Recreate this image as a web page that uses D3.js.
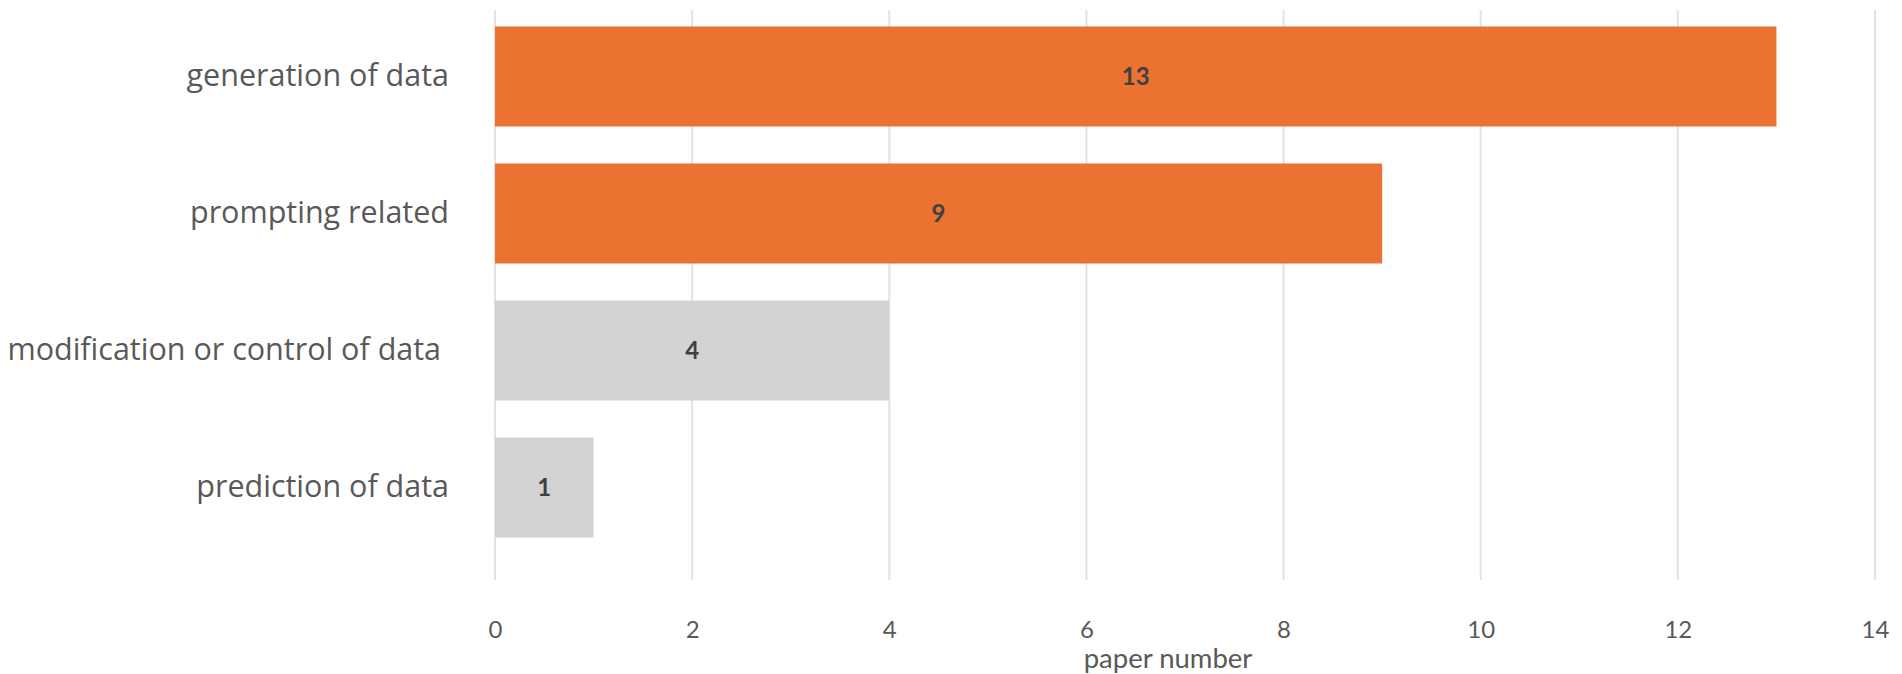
<!DOCTYPE html>
<html><head><meta charset="utf-8">
<script src="https://cdn.jsdelivr.net/npm/d3@7"></script>
<style>body{margin:0;background:#fff}svg{display:block}text{white-space:pre}</style>
</head><body><svg id="c" width="1902" height="674"></svg>
<script>
const categories = ["generation of data","prompting related","modification or control of data ","prediction of data"];
const values = [13, 9, 4, 1];
const highlighted = ["generation of data","prompting related"];
const xTicks = [0,2,4,6,8,10,12,14];
const xTitle = "paper number";

const W=1902,H=674;
const m={left:495,right:27,top:8,bottom:118};
const svg=d3.select("#c");
const font="Lato, 'Open Sans', sans-serif";
const font2="'Open Sans', Lato, sans-serif";
const x=d3.scaleLinear().domain([0,14]).range([m.left,W-m.right]);
const y=d3.scaleBand().domain(categories).range([m.top,H-m.bottom]).paddingInner(0.27).paddingOuter(0.135);

// gridlines
svg.append("g").selectAll("line").data(xTicks).join("line")
 .attr("x1",d=>x(d)).attr("x2",d=>x(d)).attr("y1",10).attr("y2",580)
 .attr("stroke","#e3e3e3").attr("stroke-width",2);

// bars
svg.append("g").selectAll("rect").data(categories).join("rect")
 .attr("x",x(0)).attr("y",d=>y(d)).attr("height",y.bandwidth())
 .attr("width",(d,i)=>x(values[i])-x(0))
 .attr("fill",d=>highlighted.includes(d)?"#ec7232":"#d3d3d3");

// data labels
svg.append("g").selectAll("text").data(categories).join("text")
 .attr("x",(d,i)=>(x(0)+x(values[i]))/2).attr("y",d=>y(d)+y.bandwidth()/2)
 .attr("dy","0.35em").attr("text-anchor","middle")
 .attr("font-family",font).attr("font-size",24).attr("font-weight",700)
 .attr("fill","#404040").text((d,i)=>values[i]);

// x axis
const xa=svg.append("g").attr("transform",`translate(0,${630})`)
 .call(d3.axisBottom(x).tickValues(xTicks).tickSize(0).tickPadding(0));
xa.select(".domain").remove();
xa.selectAll("text").attr("font-family",font).attr("font-size",24).attr("fill","#595959").attr("dy","0.35em");

// y axis labels
const ya=svg.append("g").attr("transform",`translate(${449},0)`)
 .call(d3.axisLeft(y).tickSize(0).tickPadding(0));
ya.select(".domain").remove();
ya.selectAll("text").attr("font-family",font2).attr("font-size",30.5).attr("fill","#595959");

svg.append("text").attr("x",1168).attr("y",658).attr("dy","0.35em").attr("text-anchor","middle")
 .attr("font-family",font).attr("font-size",27.5).attr("fill","#595959").text(xTitle);
</script></body></html>
